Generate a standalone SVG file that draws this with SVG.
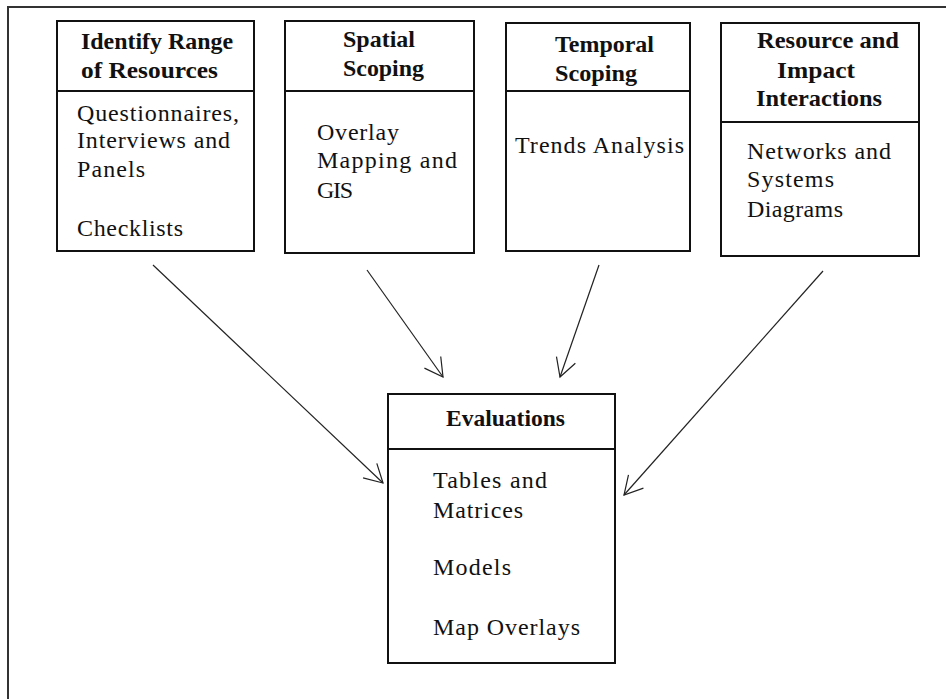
<svg xmlns="http://www.w3.org/2000/svg" width="946" height="699" viewBox="0 0 946 699">
<style>
.box{fill:#fff;stroke:#111;stroke-width:2}
.div{stroke:#111;stroke-width:2}
.frame{stroke:#333;stroke-width:2;fill:none}
.t{font-family:"Liberation Serif","Times New Roman",serif;font-size:23px;font-weight:bold;fill:#111}
.b{font-family:"Liberation Serif","Times New Roman",serif;font-size:24px;fill:#111}
.conn{stroke:#222;stroke-width:1.2;fill:none}
</style>
<defs>
<marker id="arr" markerUnits="userSpaceOnUse" markerWidth="24" markerHeight="24" viewBox="-20 -12 22 24" refX="0" refY="0" orient="auto">
<path d="M -18 -10 L 0 0 L -18 10" fill="none" stroke="#222" stroke-width="1.2"/>
</marker>
</defs>
<rect width="946" height="699" fill="#fff"/>
<g id="frame">
<path class="frame" d="M 946 7 L 8 7 L 8 699"/>
</g>
<g id="node-identify">
<rect class="box" x="57" y="21" width="197" height="230"/>
<line class="div" x1="57" y1="91" x2="254" y2="91"/>
<text class="t" x="81" y="49" textLength="152" lengthAdjust="spacingAndGlyphs">Identify Range</text>
<text class="t" x="81" y="78" textLength="137" lengthAdjust="spacingAndGlyphs">of Resources</text>
<text class="b" x="77" y="121" textLength="162" lengthAdjust="spacing">Questionnaires,</text>
<text class="b" x="77" y="148" textLength="153" lengthAdjust="spacing">Interviews and</text>
<text class="b" x="77" y="177" textLength="68" lengthAdjust="spacing">Panels</text>
<text class="b" x="77" y="236" textLength="106" lengthAdjust="spacing">Checklists</text>
</g>
<g id="node-spatial">
<rect class="box" x="285" y="21" width="189" height="232"/>
<line class="div" x1="285" y1="91" x2="474" y2="91"/>
<text class="t" x="343" y="47" textLength="72" lengthAdjust="spacingAndGlyphs">Spatial</text>
<text class="t" x="343" y="76" textLength="81" lengthAdjust="spacingAndGlyphs">Scoping</text>
<text class="b" x="317" y="140" textLength="82" lengthAdjust="spacing">Overlay</text>
<text class="b" x="317" y="168" textLength="140" lengthAdjust="spacing">Mapping and</text>
<text class="b" x="317" y="198" textLength="36" lengthAdjust="spacing">GIS</text>
</g>
<g id="node-temporal">
<rect class="box" x="506" y="23" width="184" height="228"/>
<line class="div" x1="506" y1="91" x2="690" y2="91"/>
<text class="t" x="555" y="52" textLength="99" lengthAdjust="spacingAndGlyphs">Temporal</text>
<text class="t" x="555" y="81" textLength="82" lengthAdjust="spacingAndGlyphs">Scoping</text>
<text class="b" x="515" y="153" textLength="169" lengthAdjust="spacing">Trends Analysis</text>
</g>
<g id="node-resource">
<rect class="box" x="721" y="23" width="198" height="233"/>
<line class="div" x1="721" y1="122" x2="919" y2="122"/>
<text class="t" x="757" y="48" textLength="142" lengthAdjust="spacingAndGlyphs">Resource and</text>
<text class="t" x="777" y="78" textLength="78" lengthAdjust="spacingAndGlyphs">Impact</text>
<text class="t" x="756" y="106" textLength="126" lengthAdjust="spacingAndGlyphs">Interactions</text>
<text class="b" x="747" y="159" textLength="144" lengthAdjust="spacing">Networks and</text>
<text class="b" x="747" y="187" textLength="87" lengthAdjust="spacing">Systems</text>
<text class="b" x="747" y="217" textLength="96" lengthAdjust="spacing">Diagrams</text>
</g>
<g id="node-evaluations">
<rect class="box" x="388" y="394" width="227" height="269"/>
<line class="div" x1="388" y1="449" x2="615" y2="449"/>
<text class="t" x="446" y="426" textLength="119" lengthAdjust="spacingAndGlyphs">Evaluations</text>
<text class="b" x="433" y="488" textLength="114" lengthAdjust="spacing">Tables and</text>
<text class="b" x="433" y="518" textLength="90" lengthAdjust="spacing">Matrices</text>
<text class="b" x="433" y="575" textLength="78" lengthAdjust="spacing">Models</text>
<text class="b" x="433" y="635" textLength="147" lengthAdjust="spacing">Map Overlays</text>
</g>
<g id="connectors">
<line class="conn" x1="153" y1="265" x2="383" y2="483" marker-end="url(#arr)"/>
<line class="conn" x1="367" y1="270" x2="443" y2="377" marker-end="url(#arr)"/>
<line class="conn" x1="599" y1="265" x2="560" y2="377" marker-end="url(#arr)"/>
<line class="conn" x1="823" y1="271" x2="624" y2="495" marker-end="url(#arr)"/>
</g>
</svg>
